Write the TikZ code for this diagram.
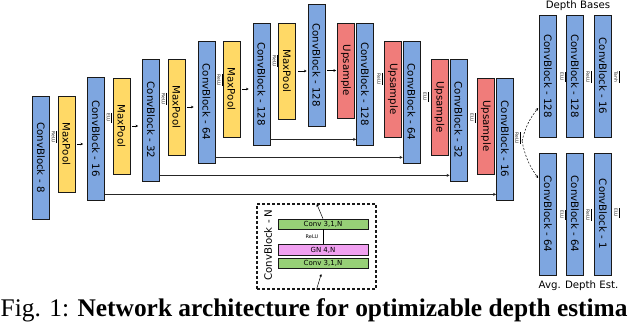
\documentclass[tikz,border=0pt]{standalone}
\usepackage{fontspec}
\setmainfont{DejaVu Sans}
\newfontfamily\capfont{Liberation Serif}
\usepackage{graphicx}
\usetikzlibrary{arrows.meta,calc}
\definecolor{cbblue}{HTML}{7EA6E0}
\definecolor{mpyellow}{HTML}{FFD966}
\definecolor{upred}{HTML}{F07C7A}
\definecolor{cvgreen}{HTML}{97D077}
\definecolor{gnpink}{HTML}{F0A0F0}
\newcommand\mkblock[5]{\node[#1, minimum height=#4pt] (#2) at (#3) {\rotatebox{-90}{#5}};}
\newcommand\actlab[3]{\node[actl] (#1) at (#2) {\rotatebox{-90}{#3}};
  \draw[line width=0.4pt] ([xshift=0.7pt]#1.north east) -- ([xshift=0.7pt]#1.south east);}
\begin{document}
\begin{tikzpicture}[x=1pt,y=-1pt,
  blk/.style={draw=black!90, line width=0.8pt, minimum width=17pt, inner sep=0pt, font=\fontsize{10.2}{12}\selectfont},
  cbs/.style={blk, fill=cbblue},
  mps/.style={blk, fill=mpyellow},
  ups/.style={blk, fill=upred},
  actl/.style={font=\fontsize{4.5}{5}\selectfont, inner sep=0.4pt, text=black!85},
  flow/.style={-{Stealth[length=2.6pt,width=2.6pt]}, line width=0.5pt},
  skipl/.style={-{Stealth[length=3pt,width=3pt]}, line width=0.6pt, draw=black!85},
  inner/.style={draw=black!90, line width=0.6pt, minimum width=90pt, inner sep=0pt, font=\fontsize{7}{8}\selectfont},
]
\useasboundingbox (0,0) rectangle (640,323);
\clip (0,0) rectangle (640,323);
\fill[white] (0,0) rectangle (640,323);

% encoder
\mkblock{cbs}{cb8}{41,157.5}{123}{ConvBlock - 8}
\mkblock{mps}{mp1}{66.5,144}{96}{MaxPool}
\mkblock{cbs}{cb16}{96,138.5}{123}{ConvBlock - 16}
\mkblock{mps}{mp2}{121.5,126}{96}{MaxPool}
\mkblock{cbs}{cb32}{151,120}{122}{ConvBlock - 32}
\mkblock{mps}{mp3}{176.5,107}{96}{MaxPool}
\mkblock{cbs}{cb64}{206.5,102}{122}{ConvBlock - 64}
\mkblock{mps}{mp4}{231.5,89}{96}{MaxPool}
\mkblock{cbs}{cb128a}{261.5,84}{122}{ConvBlock - 128}
\mkblock{mps}{mp5}{287,71}{96}{MaxPool}
\mkblock{cbs}{cb128b}{316.5,65}{122}{ConvBlock - 128}
% decoder
\mkblock{ups}{up1}{346,70.5}{95}{Upsample}
\mkblock{cbs}{dcb128}{365,84}{122}{ConvBlock - 128}
\mkblock{ups}{up2}{393,89}{96}{Upsample}
\mkblock{cbs}{dcb64}{411.5,102}{122}{ConvBlock - 64}
\mkblock{ups}{up3}{439.5,107}{96}{Upsample}
\mkblock{cbs}{dcb32}{458.5,120}{122}{ConvBlock - 32}
\mkblock{ups}{up4}{486,126}{96}{Upsample}
\mkblock{cbs}{dcb16}{505,139}{122}{ConvBlock - 16}
% heads
\mkblock{cbs}{d1}{548,76}{122}{ConvBlock - 128}
\mkblock{cbs}{d2}{575,76}{122}{ConvBlock - 128}
\mkblock{cbs}{d3}{603,76}{122}{ConvBlock - 16}
\mkblock{cbs}{e1}{548,214}{122}{ConvBlock - 64}
\mkblock{cbs}{e2}{575,214}{122}{ConvBlock - 64}
\mkblock{cbs}{e3}{603,214}{122}{ConvBlock - 1}

\node[font=\fontsize{10.2}{12}\selectfont, inner sep=0pt] (dbt) at (578,5.5) {Depth Bases};
\node[font=\fontsize{10.2}{12}\selectfont, inner sep=0pt] (adt) at (578.5,286) {Avg. Depth Est.};

% activation labels
\actlab{a1}{53.5,137}{ReLU}
\actlab{a2}{108.5,118}{ELU}
\actlab{a3}{163.5,99}{ReLU}
\actlab{a4}{219,80}{ReLU}
\actlab{a5}{274.5,61}{ReLU}
\actlab{a6}{379,79}{ReLU}
\actlab{a7}{425,97}{ELU}
\actlab{a8}{472,118}{ELU}
\actlab{a9}{517,138}{ReLU}
\actlab{a10}{562,77}{ELU}
\actlab{a11}{588,77}{ReLU}
\actlab{a12}{616,77}{Tanh}
\actlab{a13}{562,215}{ELU}
\actlab{a14}{588,215}{ReLU}
\actlab{a15}{616,213}{ELU}

% flow arrows
\draw[flow, shorten <=2pt, shorten >=4pt] (mp1.east) -- (mp1.east -| cb16.west);
\draw[flow, shorten <=2pt, shorten >=4pt] (mp2.east) -- (mp2.east -| cb32.west);
\draw[flow, shorten <=2pt, shorten >=4pt] (mp3.east) -- (mp3.east -| cb64.west);
\draw[flow, shorten <=2pt, shorten >=4pt] (mp4.east) -- (mp4.east -| cb128a.west);
\draw[flow, shorten <=2pt, shorten >=1pt] (mp5.east) -- (mp5.east -| cb128b.west);
\draw[flow, shorten <=2pt, shorten >=1pt] (cb128b.east |- up1.west) -- (up1.west);

% skip connections
\draw[skipl] ([yshift=6pt]cb128a.south east) -- ([yshift=6pt]dcb128.south west);
\draw[skipl] ([yshift=6pt]cb64.south east) -- ([yshift=6pt]dcb64.south west);
\draw[skipl] ([yshift=6pt]cb32.south east) -- ([yshift=6pt]dcb32.south west);
\draw[skipl] ([yshift=6pt]cb16.south east) -- ([yshift=6pt]dcb16.south west);

% split to heads
\coordinate (split) at (522,141);
\draw[flow, dashed, dash pattern=on 2pt off 1.6pt] (split) to[bend left=12] ($(d1.west)+(-1,32)$);
\draw[flow, dashed, dash pattern=on 2pt off 1.6pt] (split) to[bend right=12] ($(e1.west)+(-1,-36)$);

% ConvBlock - N legend
\node[draw=black!90, dash pattern=on 3pt off 2pt, line width=1.2pt, minimum width=119pt, minimum height=85pt, inner sep=0pt] (cbn) at (316.5,246.5) {};
\node[font=\fontsize{10.2}{12}\selectfont, inner sep=0pt] (cbnt) at (268,245) {\rotatebox{90}{ConvBlock - N}};
\node[inner, fill=cvgreen, minimum height=10pt] (cvt) at (323,224) {Conv 3,1,N};
\node[inner, fill=gnpink, minimum height=11.5pt] (gn) at (323,250) {GN 4,N};
\node[inner, fill=cvgreen, minimum height=10pt] (cvb) at (323,263) {Conv 3,1,N};
\draw[line width=0.5pt] (cvt.south) -- (gn.north);
\node[font=\fontsize{5}{6}\selectfont, inner sep=0pt] (rl) at (312,236.5) {ReLU};
\draw[flow, shorten >=6pt] (cbn.south) -- (cvb.south);
\draw[flow, shorten >=0.8pt] (cvt.north) -- (cbn.north);

% caption
\node[anchor=base west, inner sep=0pt, font=\capfont\fontsize{25.4}{30}\selectfont] (cap) at (0.5,316.5) {Fig. 1: \textbf{Network architecture for optimizable depth estima}};
\end{tikzpicture}
\end{document}
